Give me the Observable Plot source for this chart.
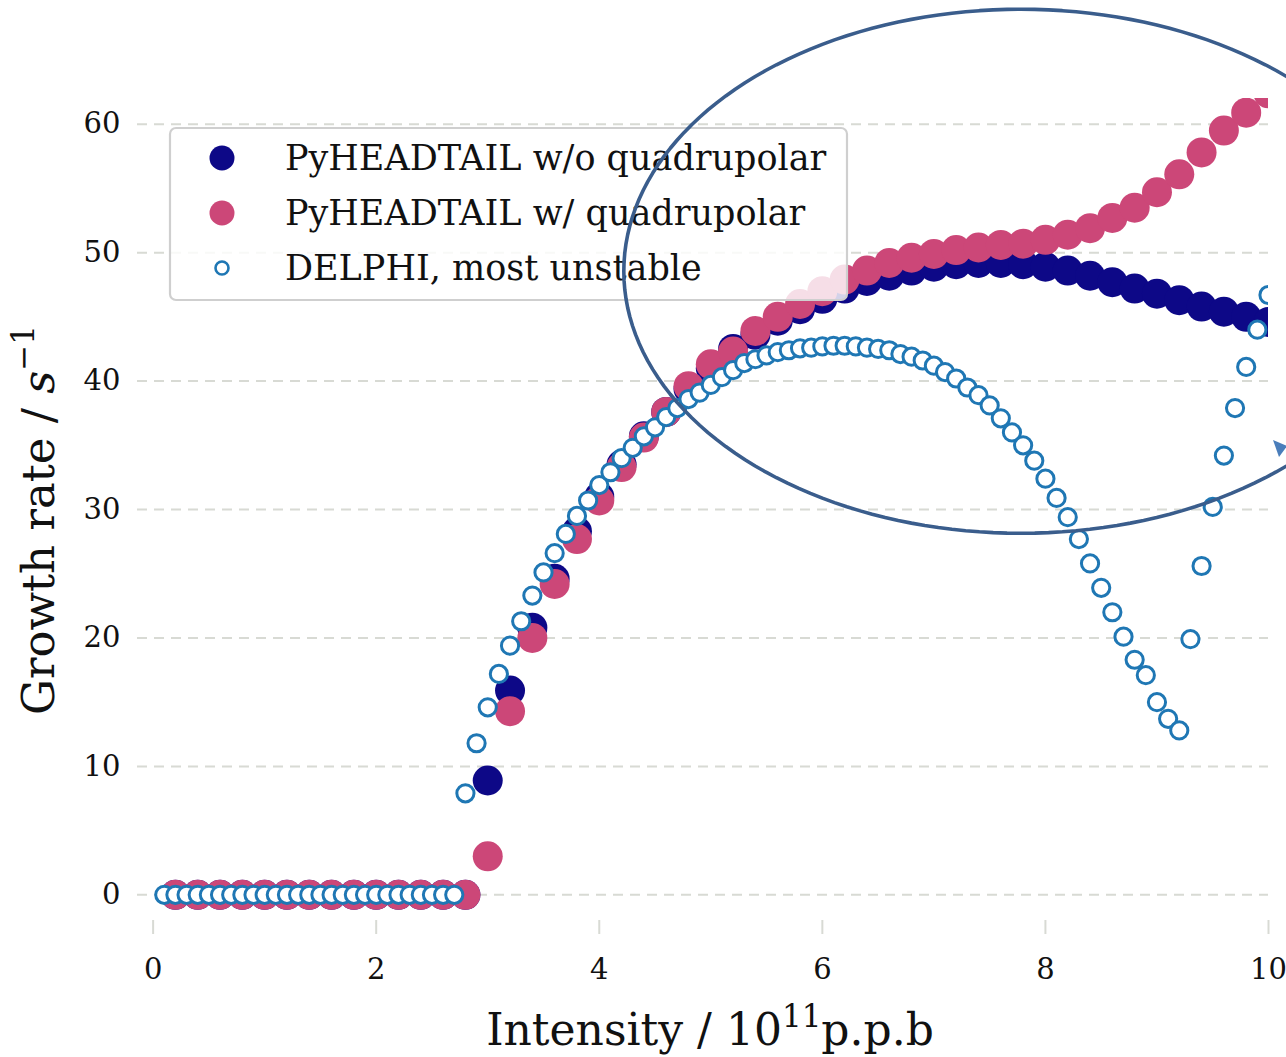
<!DOCTYPE html>
<html>
<head>
<meta charset="utf-8">
<script src="https://cdn.jsdelivr.net/npm/d3@7"></script>
<script src="https://cdn.jsdelivr.net/npm/@observablehq/plot@0.6"></script>
<style>
  html, body { margin: 0; padding: 0; background: #fff; }
  #chart svg { display: block; }
</style>
</head>
<body>
<div id="chart"></div>
<script>
const FONT = "'DejaVu Serif', serif";

// ---------- data ----------
const pyhtX = [0.2,0.4,0.6,0.8,1.0,1.2,1.4,1.6,1.8,2.0,2.2,2.4,2.6,2.8,
  3.0,3.2,3.4,3.6,3.8,4.0,4.2,4.4,4.6,4.8,5.0,5.2,5.4,5.6,5.8,6.0,6.2,6.4,6.6,6.8,
  7.0,7.2,7.4,7.6,7.8,8.0,8.2,8.4,8.6,8.8,9.0,9.2,9.4,9.6,9.8,10.0];

const woQuadY = [0,0,0,0,0,0,0,0,0,0,0,0,0,0,
  8.9,15.9,20.8,24.6,28.3,31.0,33.5,35.7,37.6,39.4,41.0,42.5,43.6,44.7,45.6,46.4,47.2,47.8,48.2,48.6,
  48.9,49.1,49.2,49.2,49.1,48.9,48.6,48.2,47.7,47.2,46.8,46.3,45.8,45.4,45.0,44.6];

const wQuadY = [0,0,0,0,0,0,0,0,0,0,0,0,0,0,
  3.0,14.3,20.0,24.2,27.7,30.7,33.3,35.6,37.6,39.6,41.3,42.3,43.9,45.0,46.0,47.0,47.9,48.6,49.2,49.6,
  49.9,50.2,50.4,50.6,50.7,51.0,51.4,51.9,52.7,53.5,54.7,56.1,57.8,59.5,60.9,62.4];

const delphiX = [0.1,0.2,0.3,0.4,0.5,0.6,0.7,0.8,0.9,1.0,1.1,1.2,1.3,1.4,1.5,1.6,1.7,1.8,1.9,2.0,
  2.1,2.2,2.3,2.4,2.5,2.6,2.7,2.8,2.9,3.0,3.1,3.2,3.3,3.4,3.5,3.6,3.7,3.8,3.9,4.0,
  4.1,4.2,4.3,4.4,4.5,4.6,4.7,4.8,4.9,5.0,5.1,5.2,5.3,5.4,5.5,5.6,5.7,5.8,5.9,6.0,
  6.1,6.2,6.3,6.4,6.5,6.6,6.7,6.8,6.9,7.0,7.1,7.2,7.3,7.4,7.5,7.6,7.7,7.8,7.9,8.0,
  8.1,8.2,8.3,8.4,8.5,8.6,8.7,8.8,8.9,9.0,9.1,9.2,9.3,9.4,9.5,9.6,9.7,9.8,9.9,10.0];

const delphiY = [0,0,0,0,0,0,0,0,0,0,0,0,0,0,0,0,0,0,0,0,
  0,0,0,0,0,0,0,7.9,11.8,14.6,17.2,19.4,21.3,23.3,25.1,26.6,28.1,29.5,30.7,31.9,
  32.9,34.0,34.8,35.7,36.4,37.2,37.9,38.6,39.1,39.7,40.3,40.85,41.4,41.7,42.0,42.25,42.4,42.55,42.6,42.7,
  42.75,42.75,42.7,42.6,42.5,42.4,42.1,41.9,41.6,41.2,40.7,40.2,39.5,38.9,38.1,37.1,36.0,35.0,33.8,32.4,
  30.9,29.4,27.7,25.8,23.9,22.0,20.1,18.3,17.1,15.0,13.7,12.8,19.9,25.6,30.2,34.2,37.9,41.1,44.0,46.7];

const xTicks = [0, 2, 4, 6, 8, 10];
const yTicks = [0, 10, 20, 30, 40, 50, 60];

const seriesNames = ["PyHEADTAIL w/o quadrupolar", "PyHEADTAIL w/ quadrupolar", "DELPHI, most unstable"];
const seriesColors = ["#0d0887", "#cc4778", "#1f77b4"];

// Annotation ellipse (hand-drawn highlight): centre and radii in data units
const ellipseCenter = [7.78, 48.55];
const ellipseRadii = [3.56, 20.4];

// ---------- table building ----------
const woQuad = pyhtX.map((x, i) => ({x, y: woQuadY[i]}));
const wQuad = pyhtX.map((x, i) => ({x, y: wQuadY[i]}));
const delphi = delphiX.map((x, i) => ({x, y: delphiY[i]}));
const ellipsePts = d3.range(0, 361, 2).map(a => ({
  x: ellipseCenter[0] + ellipseRadii[0] * Math.cos(a * Math.PI / 180),
  y: ellipseCenter[1] + ellipseRadii[1] * Math.sin(a * Math.PI / 180)
}));

const gridColor = "#d8dad4";

function legendMark() {
  const g = d3.create("svg:g").attr("text-anchor", "start");
  const x0 = 170, y0 = 128, w = 677, h = 172;
  g.append("rect").attr("x", x0).attr("y", y0).attr("width", w).attr("height", h)
    .attr("rx", 6).attr("fill", "white").attr("fill-opacity", 0.82)
    .attr("stroke", "#cfcfcf").attr("stroke-width", 2.2);
  const rows = [158, 213, 268];
  rows.forEach((cy, i) => {
    if (i < 2) {
      g.append("circle").attr("cx", 222).attr("cy", cy).attr("r", 12.5).attr("fill", seriesColors[i]);
    } else {
      g.append("circle").attr("cx", 222).attr("cy", cy).attr("r", 6.5).attr("fill", "white")
        .attr("stroke", seriesColors[2]).attr("stroke-width", 2.6);
    }
    g.append("text").attr("x", 285).attr("y", cy + 12)
      .attr("text-anchor", "start")
      .attr("font-family", FONT).attr("font-size", 35).attr("fill", "#111")
      .text(seriesNames[i]);
  });
  return g.node();
}

function arrowMark() {
  const g = d3.create("svg:g");
  g.append("path").attr("d", "M1273,440 L1287,446 L1279,457 Z").attr("fill", "#4a7ebb");
  return g.node();
}

function axisLabels() {
  const g = d3.create("svg:g").attr("font-family", FONT).attr("fill", "#111");
  const xl = g.append("text").attr("x", 710).attr("y", 1045).attr("text-anchor", "middle")
    .attr("font-size", 44);
  xl.append("tspan").text("Intensity / 10");
  xl.append("tspan").attr("font-size", 31).attr("dy", -18).text("11");
  xl.append("tspan").attr("dy", 18).text("p.p.b");
  const yl = g.append("text").attr("transform", "translate(54,520) rotate(-90)")
    .attr("text-anchor", "middle").attr("font-size", 45);
  yl.append("tspan").text("Growth rate / ");
  yl.append("tspan").attr("font-style", "italic").text("s");
  yl.append("tspan").attr("font-size", 31).attr("dy", -20).text("\u22121");
  return g.node();
}

const plot = Plot.plot({
  width: 1286,
  height: 1057,
  marginLeft: 137,
  marginRight: 18,
  marginTop: 98,
  marginBottom: 137,
  x: {domain: [-0.14, 10], axis: null},
  y: {domain: [-2, 62], axis: null},
  style: {fontFamily: FONT, background: "white", overflow: "visible"},
  marks: [
    Plot.ruleY(yTicks, {stroke: gridColor, strokeWidth: 2, strokeDasharray: "10,7"}),
    Plot.axisX(xTicks, {anchor: "bottom", tickSize: 14, tickPadding: 24, stroke: gridColor,
      strokeWidth: 2, fontSize: 29, fill: "#111", tickFormat: d => String(d), label: null}),
    Plot.axisY(yTicks, {anchor: "left", tickSize: 0, tickPadding: 17, fontSize: 29,
      fill: "#111", tickFormat: d => String(d), label: null}),
    Plot.dot(woQuad, {x: "x", y: "y", r: 15, fill: seriesColors[0], clip: true}),
    Plot.dot(wQuad, {x: "x", y: "y", r: 15, fill: seriesColors[1], clip: true}),
    Plot.dot(delphi, {x: "x", y: "y", r: 8.6, fill: "white", stroke: seriesColors[2],
      strokeWidth: 3, clip: true}),
    legendMark,
    Plot.line(ellipsePts, {x: "x", y: "y", stroke: "#3a5d8c", strokeWidth: 3.6, curve: "linear"}),
    arrowMark,
    axisLabels
  ]
});

document.getElementById("chart").appendChild(plot);
</script>
</body>
</html>
